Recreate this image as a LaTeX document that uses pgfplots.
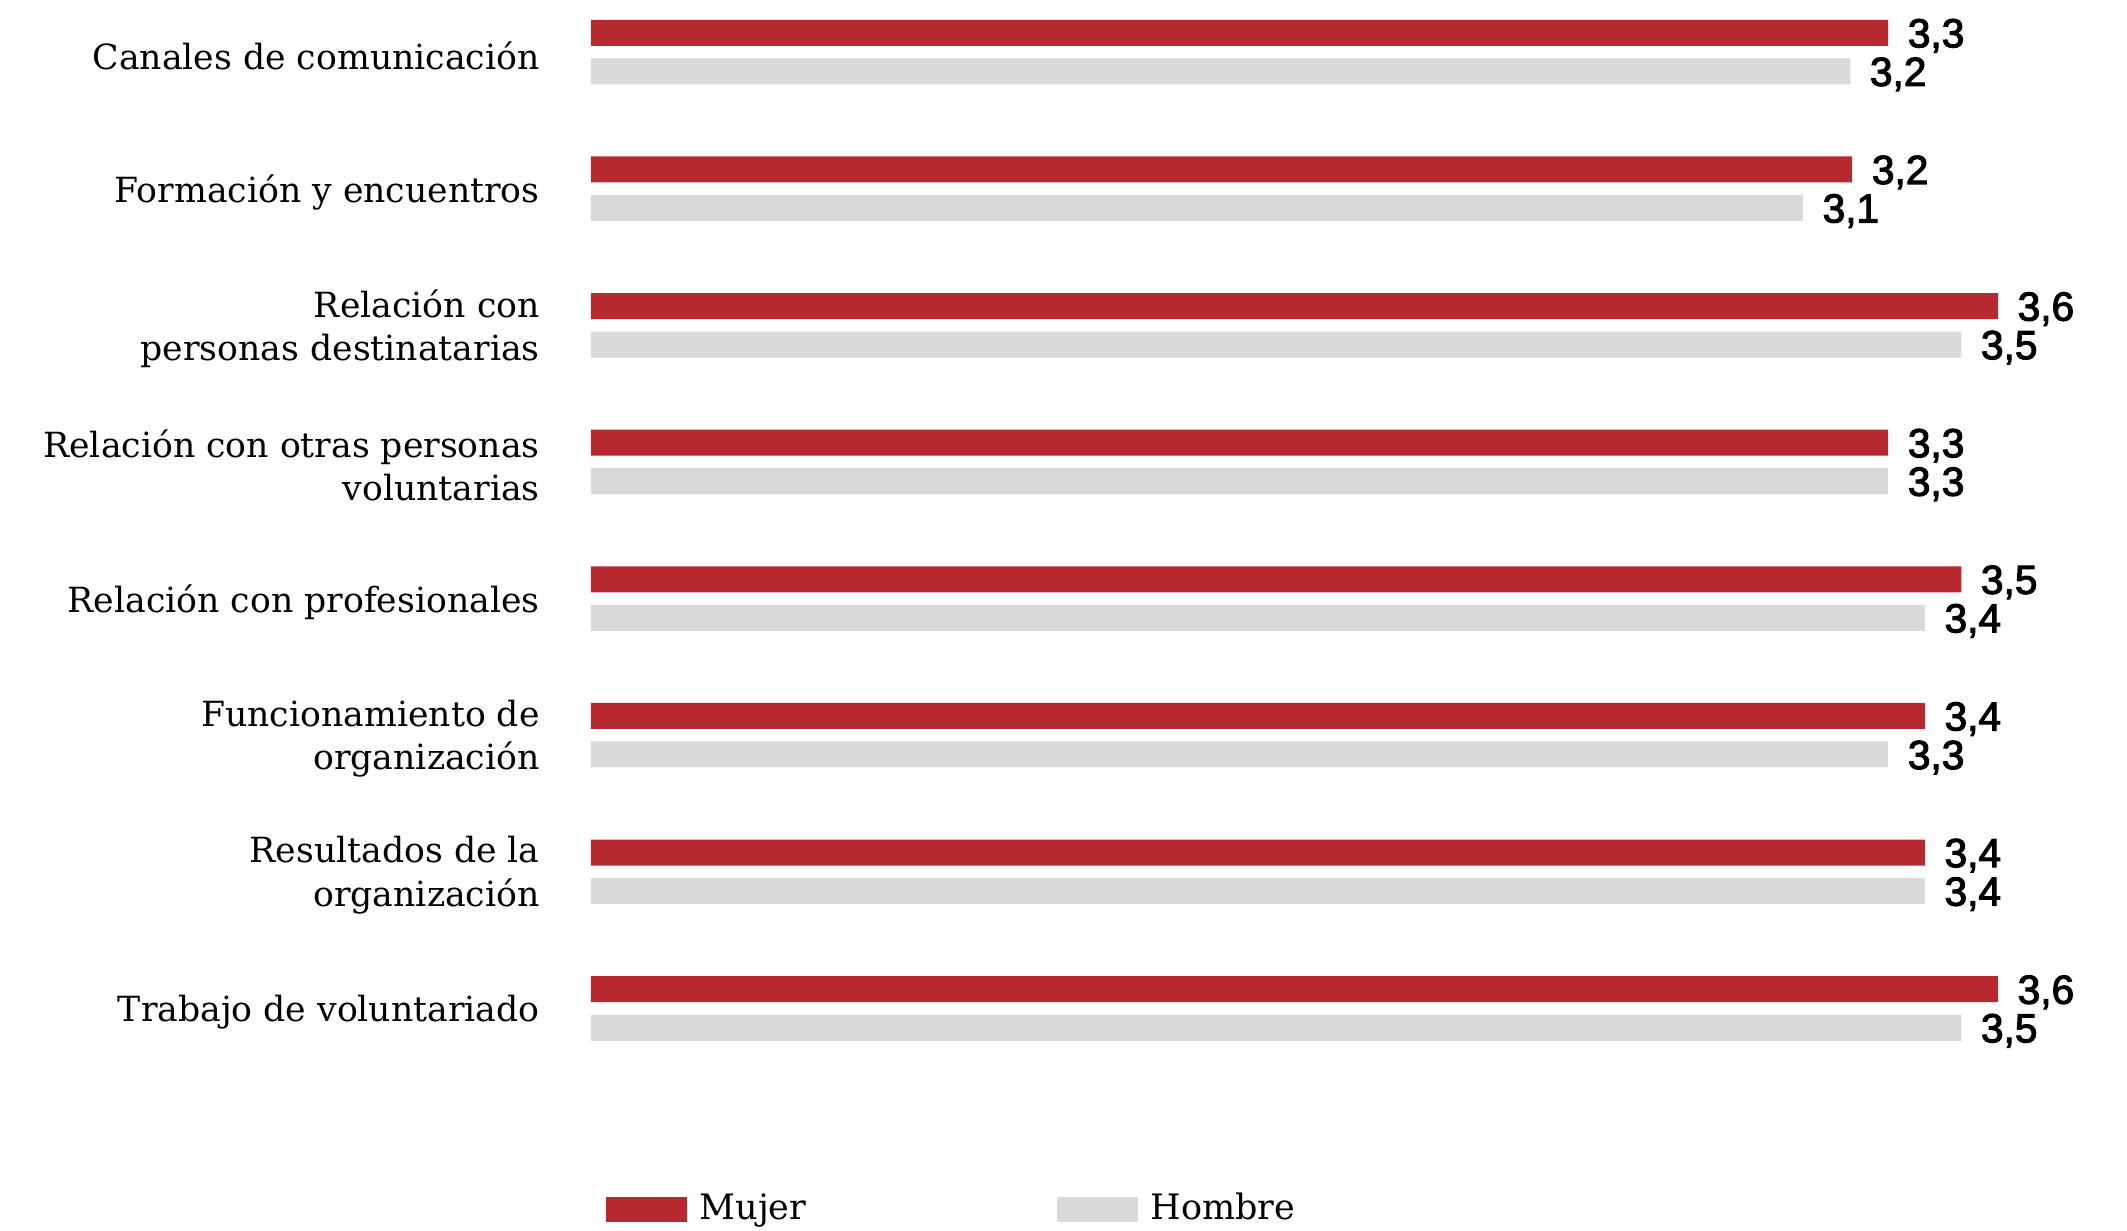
\documentclass[border=0pt]{standalone}
\usepackage{fontspec}
\usepackage{pgfplots}
\pgfplotsset{compat=1.18}
\setmainfont{DejaVu Serif}
\newfontfamily\valfont{Liberation Sans}[FakeBold=2.6]
\definecolor{mujer}{HTML}{B8282F}
\definecolor{hombre}{HTML}{D9D9D9}
\begin{document}
\begin{tikzpicture}[x=1pt,y=1pt]
\useasboundingbox (0,0) rectangle (638.1,369.3);
\begin{axis}[
  at={(177.3pt,46.26pt)}, anchor=south west,
  scale only axis, width=460.8pt, height=323.0pt,
  xbar, bar width=7.8pt,
  xmin=0, xmax=3.930, ymin=-0.38, ymax=7.5, y dir=reverse,
  axis line style={draw=none},
  xtick=\empty,
  ytick={0,1,2,3,4,5,6,7},
  yticklabels={Canales de comunicación, Formación y encuentros, {Relación con\\personas destinatarias}, {Relación con otras personas\\voluntarias}, Relación con profesionales, {Funcionamiento de\\organización}, {Resultados de la\\organización}, Trabajo de voluntariado},
  major tick length=0pt,
  tick style={draw=none},
  yticklabel style={align=right, font=\fontsize{10.4}{13}\selectfont, inner sep=0pt, xshift=-15.2pt, yshift=-1pt},
  clip=false,
  nodes near coords={\valfont\pgfmathprintnumber[use comma,fixed,fixed zerofill,precision=1,assume math mode=true]{\pgfplotspointmeta}},
  nodes near coords style={font=\valfont\fontsize{12.2}{13}\selectfont, anchor=base west, inner sep=0pt, xshift=5.7pt, yshift=-4.37pt, text=black},
  legend columns=2,
  legend style={at={(0.0091,-0.1228)}, anchor=west, draw=none, fill=none, inner sep=0pt,
    nodes={inner sep=0pt}, font=\fontsize{10.5}{12}\selectfont,
    /tikz/every even column/.append style={column sep=75.1pt}},
  legend image code/.code={\fill[#1] (0pt,-3.75pt) rectangle (24.3pt,3.75pt); \path (28.2pt,0pt);},
]
\addplot[fill=mujer, draw=none, bar shift=5.78pt] coordinates {
(3.319,0) (3.227,1) (3.600,2) (3.319,3) (3.506,4) (3.413,5) (3.413,6) (3.600,7)};
\addlegendentry{Mujer}
\addplot[fill=hombre, draw=none, bar shift=-5.78pt] coordinates {
(3.222,0) (3.101,1) (3.506,2) (3.319,3) (3.413,4) (3.319,5) (3.413,6) (3.506,7)};
\addlegendentry{Hombre}
\end{axis}
\end{tikzpicture}
\end{document}
